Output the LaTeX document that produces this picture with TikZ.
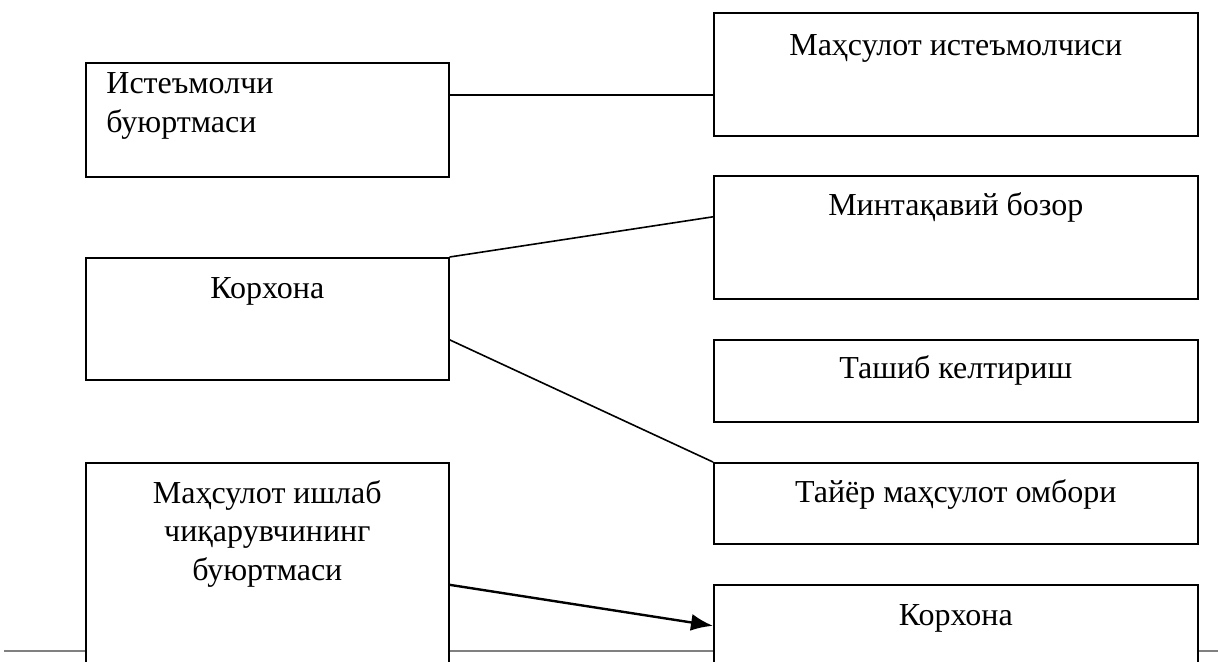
\documentclass[tikz,border=0pt]{standalone}
\usepackage{fontspec}
\setmainfont{Liberation Serif}
\usetikzlibrary{arrows.meta}
\tikzset{
	blk/.style={draw,thick,fill=white,anchor=north west,inner sep=0pt},
	txt/.style={font=\fontsize{16}{19.25}\selectfont,inner sep=0pt,align=center},
}
\begin{document}
\begin{tikzpicture}[x=0.5pt,y=-0.5pt]
	\clip (0,0) rectangle (1218,661);
	\fill[white] (0,0) rectangle (1218,661);
	\draw[gray,line width=0.8pt] (4,651) -- (1218,651);
	% boxes
	\node[blk,minimum width=181.5pt,minimum height=57pt] (ordA) at (85,62) {};
	\node[blk,minimum width=242pt,minimum height=61.5pt] (cons) at (713,12) {};
	\node[blk,minimum width=181.5pt,minimum height=61pt] (korA) at (85,257) {};
	\node[blk,minimum width=242pt,minimum height=61.5pt] (mkt) at (713,175) {};
	\node[blk,minimum width=242pt,minimum height=41pt] (tash) at (713,339) {};
	\node[blk,minimum width=242pt,minimum height=40.5pt] (omb) at (713,462) {};
	\node[blk,minimum width=181.5pt,minimum height=122pt] (ordB) at (85,462) {};
	\node[blk,minimum width=242pt,minimum height=41pt] (korB) at (713,584) {};
	% texts (base = last line)
	\node[txt,anchor=base west,align=left] (tOrdA) at ([xshift=10.5pt,yshift=-35pt]ordA.north west) {Истеъмолчи\\буюртмаси};
	\node[txt,anchor=base] (tCons) at ([yshift=-21.5pt]cons.north) {Маҳсулот истеъмолчиси};
	\node[txt,anchor=base] (tKorA) at ([yshift=-20.5pt]korA.north) {Корхона};
	\node[txt,anchor=base] (tMkt) at ([yshift=-20pt]mkt.north) {Минтақавий бозор};
	\node[txt,anchor=base] (tTash) at ([yshift=-19.5pt]tash.north) {Ташиб келтириш};
	\node[txt,anchor=base] (tOmb) at ([yshift=-20pt]omb.north) {Тайёр маҳсулот омбори};
	\node[txt,anchor=base] (tOrdB) at ([yshift=-59pt]ordB.north) {Маҳсулот ишлаб\\чиқарувчининг\\буюртмаси};
	\node[txt,anchor=base] (tKorB) at ([yshift=-20.5pt]korB.north) {Корхона};
	% connectors
	\draw[line width=0.8pt] ([yshift=12.5pt]ordA.east) -- ([yshift=12.5pt]ordA.east -| cons.west);
	\draw[line width=0.8pt] (korA.north east) -- ([yshift=10.25pt]mkt.west);
	\draw[line width=0.8pt] ([yshift=-10.5pt]korA.east) -- (omb.north west);
	\draw[line width=1.2pt,-{Latex[length=11pt,width=8.5pt]}] (ordB.east) -- (korB.west);
\end{tikzpicture}
\end{document}
